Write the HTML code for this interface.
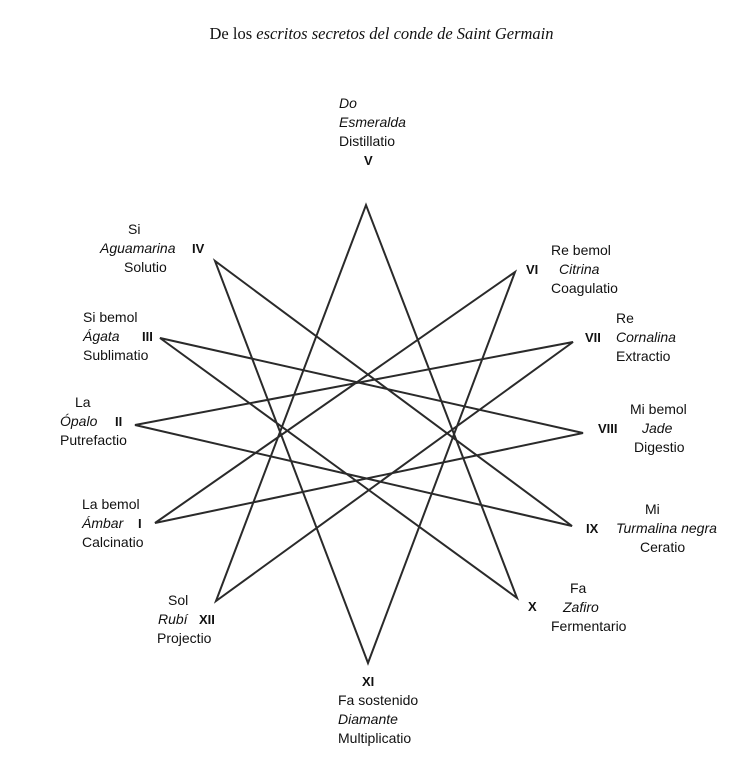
<!DOCTYPE html>
<html><head><meta charset="utf-8"><style>
body{margin:0;width:753px;height:762px;background:#fff;position:relative;overflow:hidden;font-family:"Liberation Sans",sans-serif;font-size:14px;color:#111}
.t{position:absolute;line-height:18px;white-space:nowrap}
i{font-style:italic}
b{font-weight:bold;font-size:13px}
</style></head><body>
<div class="t" style="left:0;width:753px;text-align:center;top:25px;font-family:'Liberation Serif',serif;font-size:16.5px;padding-left:10px;box-sizing:border-box">De los <i>escritos secretos del conde de Saint Germain</i></div>
<svg width="753" height="762" style="position:absolute;left:0;top:0">
<polygon points="155,523 515,272 368,663 215,261 572,526 135,425 573,342 216,601 366,205 517,598 160,338 583,433" fill="none" stroke="#2a2a2a" stroke-width="2" stroke-linejoin="miter"/>
</svg>
<div class="t" style="left:339px;top:94px"><i>Do</i></div>
<div class="t" style="left:339px;top:113px"><i>Esmeralda</i></div>
<div class="t" style="left:339px;top:132px">Distillatio</div>
<div class="t" style="left:364px;top:151px"><b>V</b></div>

<div class="t" style="left:128px;top:220px">Si</div>
<div class="t" style="left:100px;top:239px"><i>Aguamarina</i></div>
<div class="t" style="left:124px;top:258px">Solutio</div>
<div class="t" style="left:192px;top:239px"><b>IV</b></div>

<div class="t" style="left:83px;top:308px">Si bemol</div>
<div class="t" style="left:83px;top:327px"><i>Ágata</i></div>
<div class="t" style="left:83px;top:346px">Sublimatio</div>
<div class="t" style="left:142px;top:327px"><b>III</b></div>

<div class="t" style="left:75px;top:393px">La</div>
<div class="t" style="left:60px;top:412px"><i>Ópalo</i></div>
<div class="t" style="left:60px;top:431px">Putrefactio</div>
<div class="t" style="left:115px;top:412px"><b>II</b></div>

<div class="t" style="left:82px;top:495px">La bemol</div>
<div class="t" style="left:82px;top:514px"><i>Ámbar</i></div>
<div class="t" style="left:82px;top:533px">Calcinatio</div>
<div class="t" style="left:138px;top:514px"><b>I</b></div>

<div class="t" style="left:168px;top:591px">Sol</div>
<div class="t" style="left:158px;top:610px"><i>Rubí</i></div>
<div class="t" style="left:157px;top:629px">Projectio</div>
<div class="t" style="left:199px;top:610px"><b>XII</b></div>

<div class="t" style="left:362px;top:672px"><b>XI</b></div>
<div class="t" style="left:338px;top:691px">Fa sostenido</div>
<div class="t" style="left:338px;top:710px"><i>Diamante</i></div>
<div class="t" style="left:338px;top:729px">Multiplicatio</div>

<div class="t" style="left:528px;top:597px"><b>X</b></div>
<div class="t" style="left:570px;top:579px">Fa</div>
<div class="t" style="left:563px;top:598px"><i>Zafiro</i></div>
<div class="t" style="left:551px;top:617px">Fermentario</div>

<div class="t" style="left:586px;top:519px"><b>IX</b></div>
<div class="t" style="left:645px;top:500px">Mi</div>
<div class="t" style="left:616px;top:519px"><i>Turmalina negra</i></div>
<div class="t" style="left:640px;top:538px">Ceratio</div>

<div class="t" style="left:598px;top:419px"><b>VIII</b></div>
<div class="t" style="left:630px;top:400px">Mi bemol</div>
<div class="t" style="left:642px;top:419px"><i>Jade</i></div>
<div class="t" style="left:634px;top:438px">Digestio</div>

<div class="t" style="left:585px;top:328px"><b>VII</b></div>
<div class="t" style="left:616px;top:309px">Re</div>
<div class="t" style="left:616px;top:328px"><i>Cornalina</i></div>
<div class="t" style="left:616px;top:347px">Extractio</div>

<div class="t" style="left:526px;top:260px"><b>VI</b></div>
<div class="t" style="left:551px;top:241px">Re bemol</div>
<div class="t" style="left:559px;top:260px"><i>Citrina</i></div>
<div class="t" style="left:551px;top:279px">Coagulatio</div>
</body></html>
